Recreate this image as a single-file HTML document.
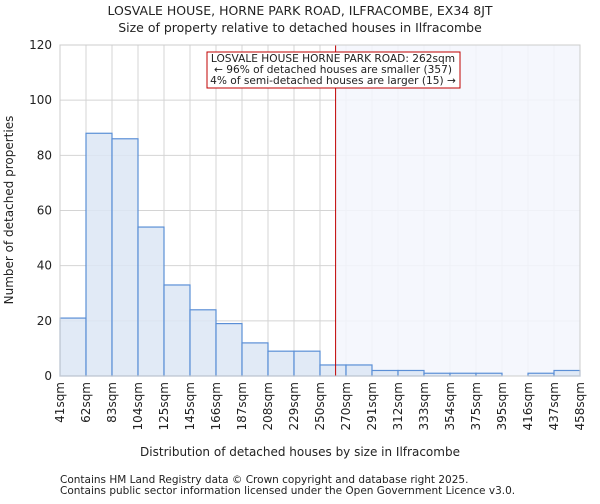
<!DOCTYPE html>
<html><head><meta charset="utf-8"><style>
body{margin:0;background:#fff;font-family:"DejaVu Sans","Liberation Sans",sans-serif}
svg text{font-family:"DejaVu Sans","Liberation Sans",sans-serif;fill:#222}
</style></head><body>
<svg id="chart" width="600" height="500" viewBox="0 0 600 500" xmlns="http://www.w3.org/2000/svg">
<text x="300" y="15" font-size="12.5" text-anchor="middle">LOSVALE HOUSE, HORNE PARK ROAD, ILFRACOMBE, EX34 8JT</text>
<text x="300" y="32" font-size="12.5" text-anchor="middle">Size of property relative to detached houses in Ilfracombe</text>
<g id="grid"></g>
<rect id="shade" fill="#f3f6fd" opacity="0.85"></rect>
<g id="bars"></g>
<line id="marker" stroke="#c00000" stroke-width="1"></line>
<rect x="60" y="45" width="520" height="331" fill="none" stroke="#ccc"></rect>
<g id="yaxis"></g><g id="xaxis"></g>
<g>
<rect x="207" y="52" width="253" height="36" fill="#fff" stroke="#c00000" stroke-width="1"></rect>
<text x="333" y="62" font-size="10.6" text-anchor="middle">LOSVALE HOUSE HORNE PARK ROAD: 262sqm</text>
<text x="333" y="73" font-size="10.6" text-anchor="middle">← 96% of detached houses are smaller (357)</text>
<text x="333" y="84" font-size="10.6" text-anchor="middle">4% of semi-detached houses are larger (15) →</text>
</g>
<text transform="translate(13,210) rotate(-90)" font-size="12" text-anchor="middle">Number of detached properties</text>
<text x="300" y="456" font-size="12" text-anchor="middle">Distribution of detached houses by size in Ilfracombe</text>
<text x="60" y="483" font-size="10.5">Contains HM Land Registry data © Crown copyright and database right 2025.</text>
<text x="60" y="494" font-size="10.5">Contains public sector information licensed under the Open Government Licence v3.0.</text>
</svg>
<script>
const edgeLabels=["41sqm","62sqm","83sqm","104sqm","125sqm","145sqm","166sqm","187sqm","208sqm","229sqm","250sqm","270sqm","291sqm","312sqm","333sqm","354sqm","375sqm","395sqm","416sqm","437sqm","458sqm"];
const counts=[21,88,86,54,33,24,19,12,9,9,4,4,2,2,1,1,1,0,1,2];
const yTicks=[0,20,40,60,80,100,120];
const markerValue=262;
const edgeValues=[41,62,83,104,125,145,166,187,208,229,250,270,291,312,333,354,375,395,416,437,458];
const X0=60,X1=580,Y0=376,Y1=45,YMAX=120;
const bw=(X1-X0)/counts.length;
const xi=i=>X0+i*bw;
const y=v=>Y0-(v/YMAX)*(Y0-Y1);
function xv(v){for(let i=0;i<edgeValues.length-1;i++){if(v<=edgeValues[i+1]){return xi(i)+(v-edgeValues[i])/(edgeValues[i+1]-edgeValues[i])*bw;}}return X1;}
const NS="http://www.w3.org/2000/svg";
function mk(t,a,p){const e=document.createElementNS(NS,t);for(const k in a)e.setAttribute(k,a[k]);p.appendChild(e);return e;}
const grid=document.getElementById('grid'),bars=document.getElementById('bars'),ya=document.getElementById('yaxis'),xa=document.getElementById('xaxis');
yTicks.forEach(t=>{const l=mk('line',{x1:X0,x2:X1,y1:y(t),y2:y(t),stroke:'#d4d4d4'},grid);


const tx=mk('text',{x:X0-8,y:y(t)+4,'font-size':12,'text-anchor':'end'},ya);tx.textContent=t;

});
edgeLabels.forEach((lab,i)=>{const l=mk('line',{x1:xi(i),x2:xi(i),y1:Y1,y2:Y0,stroke:'#d4d4d4'},grid);


const tx=mk('text',{transform:`translate(${xi(i)+4},${Y0+6}) rotate(-90)`,'font-size':12,'text-anchor':'end'},xa);tx.textContent=lab;

});
const mx=xv(markerValue);
const sh=document.getElementById('shade');sh.setAttribute('x',mx);sh.setAttribute('y',Y1);sh.setAttribute('width',X1-mx);sh.setAttribute('height',Y0-Y1);
counts.forEach((c,i)=>{if(c<=0)return;const r=mk('rect',{x:xi(i),y:y(c),width:bw,height:Y0-y(c),fill:'#dce6f4',stroke:'#5b8fd6','stroke-width':1.2,'fill-opacity':0.85},bars);

});
const m=document.getElementById('marker');m.setAttribute('x1',mx);m.setAttribute('x2',mx);m.setAttribute('y1',Y1);m.setAttribute('y2',Y0);
</script>
</body></html>
